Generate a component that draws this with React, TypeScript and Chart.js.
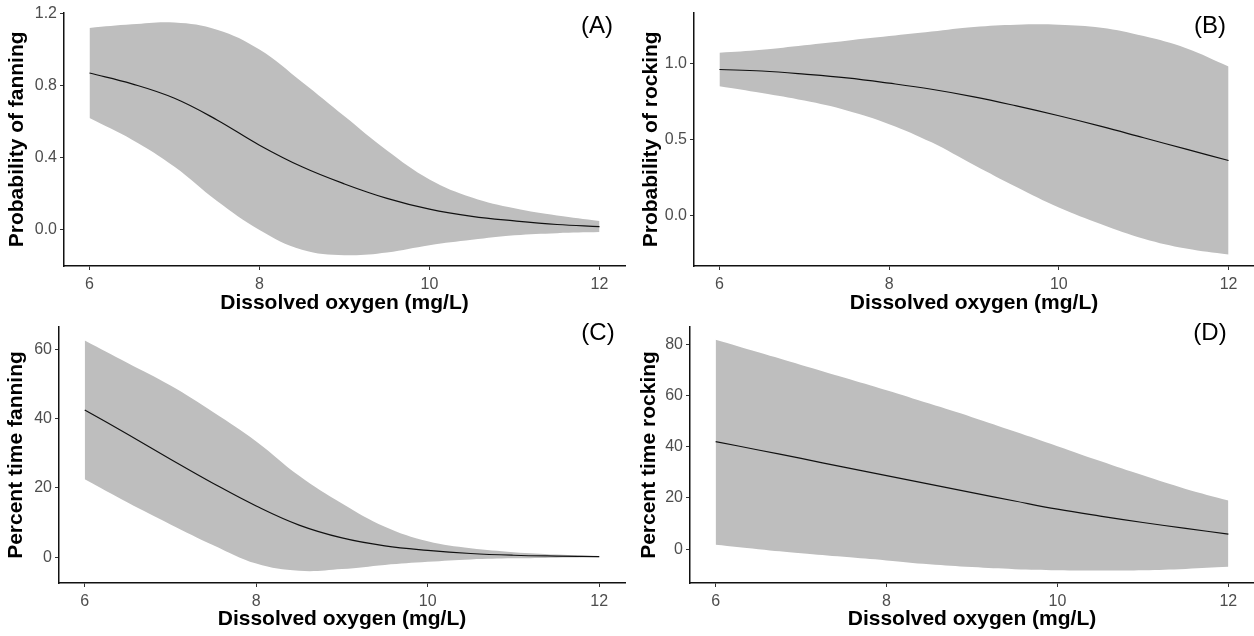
import React, { useEffect, useRef } from "react";
import { Chart, registerables } from "chart.js";

Chart.register(...registerables);

// ---------- data ----------
const xValues = [6, 6.5, 7, 7.5, 8, 8.5, 9, 9.5, 10, 10.5, 11, 11.5, 12];
const xTicks = [6, 8, 10, 12];
const xTitle = "Dissolved oxygen (mg/L)";

// (A) Probability of fanning
const fanProbMean = [0.87, 0.81, 0.73, 0.61, 0.47, 0.35, 0.255, 0.175, 0.115, 0.075, 0.05, 0.03, 0.018];
const fanProbUpper = [1.12, 1.14, 1.15, 1.11, 1.0, 0.82, 0.63, 0.44, 0.28, 0.18, 0.12, 0.08, 0.05];
const fanProbLower = [0.62, 0.5, 0.35, 0.16, 0.0, -0.11, -0.14, -0.125, -0.085, -0.055, -0.03, -0.018, -0.012];
const fanProbTicks = [0.0, 0.4, 0.8, 1.2];
const fanProbTickLabels = ["0.0", "0.4", "0.8", "1.2"];

// (B) Probability of rocking
const rockProbMean = [0.96, 0.95, 0.93, 0.905, 0.87, 0.83, 0.78, 0.72, 0.655, 0.585, 0.51, 0.435, 0.36];
const rockProbUpper = [1.07, 1.09, 1.12, 1.15, 1.18, 1.21, 1.24, 1.255, 1.255, 1.235, 1.18, 1.1, 0.98];
const rockProbLower = [0.85, 0.805, 0.755, 0.69, 0.6, 0.48, 0.33, 0.185, 0.05, -0.06, -0.155, -0.22, -0.26];
const rockProbTicks = [0.0, 0.5, 1.0];
const rockProbTickLabels = ["0.0", "0.5", "1.0"];

// (C) Percent time fanning
const fanPctMean = [42.5, 35.5, 28.3, 21.3, 14.8, 9.3, 5.6, 3.3, 2.0, 1.1, 0.6, 0.35, 0.2];
const fanPctUpper = [62.5, 56, 49.5, 41.8, 33.4, 23.5, 15.5, 8.8, 4.6, 2.6, 1.5, 0.8, 0.3];
const fanPctLower = [22.5, 15.8, 9.5, 3.5, -1.8, -3.9, -3.4, -2.2, -1.3, -0.6, -0.3, -0.1, 0];
const fanPctTicks = [0, 20, 40, 60];
const fanPctTickLabels = ["0", "20", "40", "60"];

// (D) Percent time rocking
const rockPctMean = [42, 38.7, 35.4, 32.0, 28.7, 25.4, 22.1, 18.8, 15.6, 12.9, 10.4, 8.1, 5.9];
const rockPctUpper = [81.7, 76.8, 71.9, 67.0, 62.0, 56.8, 51.5, 45.9, 40.2, 34.4, 28.8, 23.5, 19.0];
const rockPctLower = [1.7, 0, -1.6, -3, -4.4, -5.9, -7, -7.8, -8.2, -8.3, -8.2, -7.7, -6.9];
const rockPctTicks = [0, 20, 40, 60, 80];
const rockPctTickLabels = ["0", "20", "40", "60", "80"];

// ---------- layout / style ----------
const FONT = "'Liberation Sans', Arial, Helvetica, sans-serif";
const BAND = "#bebebe";

type PanelCfg = {
  letter: string;
  yTitle: string;
  mean: number[];
  upper: number[];
  lower: number[];
  yTicks: number[];
  yTickLabels: string[];
  yMin: number;
  yMax: number;
  xMin: number;
  xMax: number;
  left: number;
  top: number;
  width: number;
  height: number;
  padTop: number;
  padRight: number;
  yAxisWidth: number;
  xAxisHeight: number;
  yTitlePad: number;
  letterX: number;
  letterY: number;
};

const panels: PanelCfg[] = [
  {
    letter: "(A)", yTitle: "Probability of fanning",
    mean: fanProbMean, upper: fanProbUpper, lower: fanProbLower,
    yTicks: fanProbTicks, yTickLabels: fanProbTickLabels, yMin: -0.2, yMax: 1.205,
    xMin: 5.7, xMax: 12.3,
    left: 0, top: 0, width: 627, height: 316, padTop: 12, padRight: 2,
    yAxisWidth: 64, xAxisHeight: 50, yTitlePad: 5, letterX: 597, letterY: 25,
  },
  {
    letter: "(B)", yTitle: "Probability of rocking",
    mean: rockProbMean, upper: rockProbUpper, lower: rockProbLower,
    yTicks: rockProbTicks, yTickLabels: rockProbTickLabels, yMin: -0.335, yMax: 1.335,
    xMin: 5.7, xMax: 12.3,
    left: 634, top: 0, width: 620, height: 316, padTop: 12, padRight: 0,
    yAxisWidth: 60, xAxisHeight: 50, yTitlePad: 5, letterX: 1210, letterY: 25,
  },
  {
    letter: "(C)", yTitle: "Percent time fanning",
    mean: fanPctMean, upper: fanPctUpper, lower: fanPctLower,
    yTicks: fanPctTicks, yTickLabels: fanPctTickLabels, yMin: -7.4, yMax: 66.4,
    xMin: 5.7, xMax: 12.3,
    left: 0, top: 310, width: 627, height: 322, padTop: 17, padRight: 2,
    yAxisWidth: 59, xAxisHeight: 49, yTitlePad: 4, letterX: 598, letterY: 332,
  },
  {
    letter: "(D)", yTitle: "Percent time rocking",
    mean: rockPctMean, upper: rockPctUpper, lower: rockPctLower,
    yTicks: rockPctTicks, yTickLabels: rockPctTickLabels, yMin: -13.2, yMax: 86.7,
    xMin: 5.7, xMax: 12.3,
    left: 632, top: 310, width: 622, height: 322, padTop: 17, padRight: 0,
    yAxisWidth: 58, xAxisHeight: 49, yTitlePad: 5, letterX: 1210, letterY: 332,
  },
];

function toPoints(ys: number[]) {
  return xValues.map((x, i) => ({ x, y: ys[i] }));
}

function Panel({ cfg }: { cfg: PanelCfg }) {
  const ref = useRef<HTMLCanvasElement | null>(null);

  useEffect(() => {
    if (!ref.current) return;
    const tickFont = { family: FONT, size: 16 };
    const titleFont = { family: FONT, size: 21, weight: "bold" as const };
    const chart = new Chart(ref.current, {
      type: "line",
      data: {
        datasets: [
          {
            data: toPoints(cfg.upper),
            order: 2,
            borderWidth: 0,
            borderColor: "rgba(0,0,0,0)",
            backgroundColor: BAND,
            pointRadius: 0,
            fill: "+1",
            tension: 0.4,
          },
          {
            data: toPoints(cfg.lower),
            order: 3,
            borderWidth: 0,
            borderColor: "rgba(0,0,0,0)",
            pointRadius: 0,
            fill: false,
            tension: 0.4,
          },
          {
            data: toPoints(cfg.mean),
            order: 0,
            borderWidth: 1.2,
            borderColor: "#111",
            pointRadius: 0,
            fill: false,
            tension: 0.4,
          },
        ],
      },
      options: {
        responsive: false,
        animation: false,
        events: [],
        layout: { padding: { top: cfg.padTop, right: cfg.padRight, left: 0, bottom: 0 } },
        plugins: { legend: { display: false }, tooltip: { enabled: false }, title: { display: false } },
        scales: {
          x: {
            type: "linear",
            min: cfg.xMin,
            max: cfg.xMax,
            afterBuildTicks: (s: any) => {
              s.ticks = xTicks.map((v) => ({ value: v }));
            },
            afterFit: (s: any) => {
              s.height = cfg.xAxisHeight;
            },
            ticks: {
              color: "#4d4d4d",
              font: tickFont,
              padding: 5,
              autoSkip: false,
              maxRotation: 0,
              callback: (v: any) => String(v),
            },
            grid: { drawOnChartArea: false, drawTicks: true, tickLength: 4, color: "#333", lineWidth: 1 },
            border: { display: true, color: "#111", width: 1.5 },
            title: { display: true, text: xTitle, color: "#000", font: titleFont, padding: 0 },
          },
          y: {
            type: "linear",
            min: cfg.yMin,
            max: cfg.yMax,
            afterBuildTicks: (s: any) => {
              s.ticks = cfg.yTicks.map((v) => ({ value: v }));
            },
            afterFit: (s: any) => {
              s.width = cfg.yAxisWidth;
            },
            ticks: {
              color: "#4d4d4d",
              font: tickFont,
              padding: 3,
              autoSkip: false,
              callback: (_v: any, i: number) => cfg.yTickLabels[i],
            },
            grid: { drawOnChartArea: false, drawTicks: true, tickLength: 4, color: "#333", lineWidth: 1 },
            border: { display: true, color: "#111", width: 1.5 },
            title: {
              display: true,
              text: cfg.yTitle,
              color: "#000",
              font: titleFont,
              padding: { top: cfg.yTitlePad, bottom: 0 },
            },
          },
        },
      },
    } as any);
    return () => chart.destroy();
  }, [cfg]);

  return (
    <canvas
      ref={ref}
      width={cfg.width}
      height={cfg.height}
      style={{ position: "absolute", left: cfg.left, top: cfg.top, width: cfg.width, height: cfg.height }}
    />
  );
}

export default function App() {
  return (
    <div
      style={{
        position: "absolute",
        left: 0,
        top: 0,
        width: 1254,
        height: 636,
        background: "#fff",
        overflow: "hidden",
      }}
    >
      {panels.map((p) => (
        <Panel key={p.letter} cfg={p} />
      ))}
      {panels.map((p) => (
        <div
          key={"l" + p.letter}
          style={{
            position: "absolute",
            left: p.letterX,
            top: p.letterY,
            transform: "translate(-50%, -50%)",
            fontFamily: FONT,
            fontSize: 24,
            lineHeight: 1,
            color: "#000",
            whiteSpace: "nowrap",
          }}
        >
          {p.letter}
        </div>
      ))}
    </div>
  );
}
